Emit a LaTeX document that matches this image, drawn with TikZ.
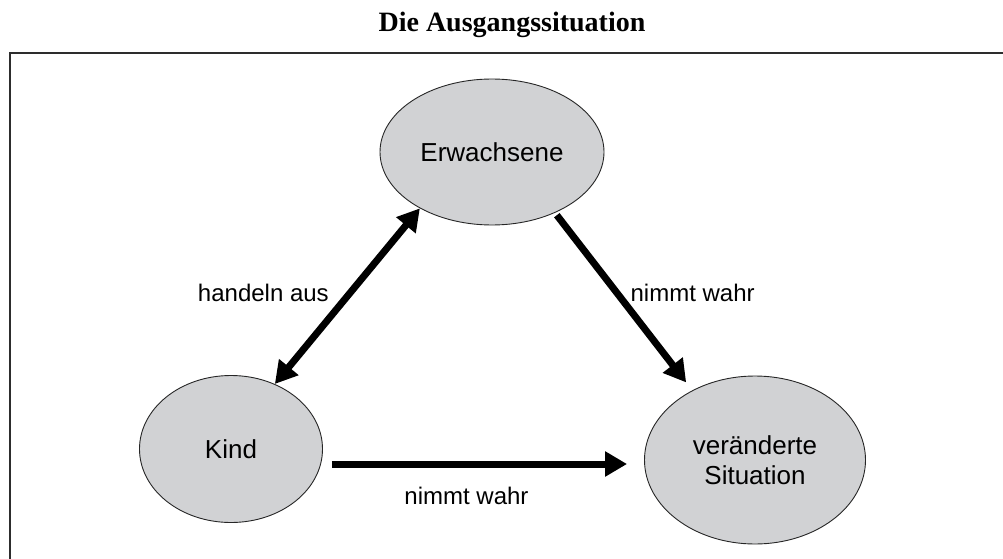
\documentclass[tikz,border=0pt]{standalone}
\usepackage{fontspec}
\setmainfont{Liberation Sans}
\newfontfamily\titlefont{Liberation Serif}
\usetikzlibrary{arrows.meta,shapes.geometric}
\definecolor{ellfill}{RGB}{209,210,212}
\definecolor{framecol}{RGB}{45,45,45}
\tikzset{
  blob/.style={ellipse, draw=black!85, line width=0.9pt, fill=ellfill, inner sep=0pt,
    font=\fontsize{26}{30}\selectfont, align=center},
  conn/.style={line width=7pt, -{Triangle[length=22pt,width=24pt]}},
  conn2/.style={line width=7pt, {Triangle[length=22pt,width=24pt]}-{Triangle[length=22pt,width=24pt]}},
  lbl/.style={font=\fontsize{24}{28}\selectfont, inner sep=0pt},
  framestyle/.style={draw=framecol, line width=2.6pt}
}
\begin{document}
\begin{tikzpicture}[x=1pt,y=-1pt]
\useasboundingbox (0,0) rectangle (1003,559);
\begin{scope}
\clip (0,0) rectangle (1003,559);
\draw[framestyle] (10,570) -- (10,53) -- (1015,53);
\end{scope}
\node[font=\titlefont\bfseries\fontsize{28}{32}\selectfont, inner sep=0pt] (title) at (512,25) {Die Ausgangssituation};
\node[blob, minimum width=224pt, minimum height=146pt] (E) at (492,152) {Erwachsene};
\node[blob, minimum width=183pt, minimum height=147pt] (K) at (231,449) {Kind};
\node[blob, minimum width=221pt, minimum height=168pt] (S) at (755,460) {veränderte\\Situation};
\draw[conn2] (E.-142.9) -- node[lbl, xshift=-84pt, yshift=3pt] (l1) {handeln aus} (K.56.9);
\draw[conn, shorten <=3pt, shorten >=10pt] (E.-44) -- node[lbl, xshift=69pt, yshift=9pt] (l2) {nimmt wahr} (S.132.3);
\draw[conn, shorten <=9pt, shorten >=17pt] ([yshift=-15pt]K.east) -- node[lbl, xshift=-17pt, yshift=-32pt] (l3) {nimmt wahr} ([yshift=-15pt]K.east -| S.west);
\end{tikzpicture}
\end{document}
